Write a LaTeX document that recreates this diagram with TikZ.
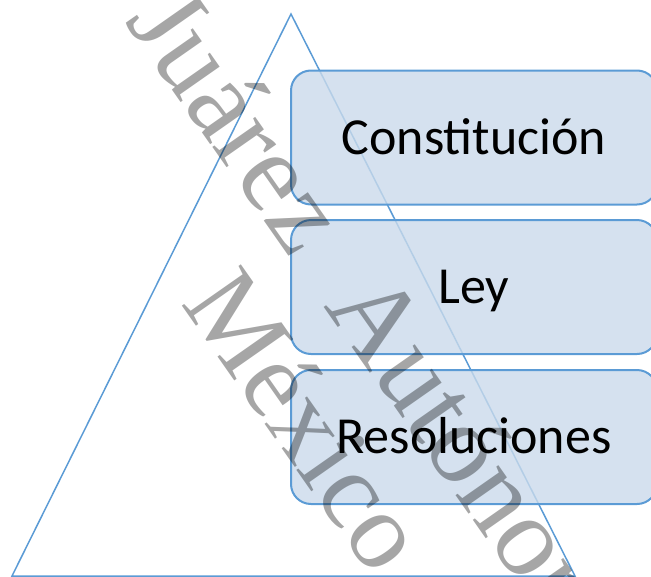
\documentclass[tikz,border=0pt]{standalone}
\usepackage{fontspec}
\setmainfont{Carlito}
\newfontfamily\wmfont{Liberation Serif}
\definecolor{boxline}{RGB}{91,155,213}
\definecolor{boxfill}{RGB}{202,218,235}

\begin{document}
\begin{tikzpicture}[x=1pt,y=-1pt,
  levelbox/.style={draw=boxline,line width=2pt,fill=boxfill,fill opacity=0.8,text opacity=1,
    rounded corners=20pt,minimum width=366pt,minimum height=134pt,
    text height=33pt,text depth=0pt,font=\fontsize{52}{62}\selectfont},
  watermark/.style={rotate=-55,text=black,text opacity=0.35,inner sep=0pt,anchor=base west}]
\useasboundingbox (0,0) rectangle (651,576);
\clip (0,0) rectangle (651,576);

% pyramid
\coordinate (apex) at (291,14);
\coordinate (baseleft) at (12,576);
\coordinate (baseright) at (575,576);
\draw[boxline,line width=1.5pt] (apex) -- (baseleft) -- (baseright) -- cycle;

% levels
\node[levelbox] (constitucion) at (474,137.5) {Constitución};
\node[levelbox] (ley) at (474,287) {Ley};
\node[levelbox] (resoluciones) at (474,437) {Resoluciones};

% watermark
\node[watermark,font=\wmfont\fontsize{114}{124}\selectfont] (univ) at (124,21) {Juárez\ \ Autónoma};
\node[watermark,font=\wmfont\fontsize{110}{120}\selectfont] (pais) at (180,303) {México};
\end{tikzpicture}
\end{document}
